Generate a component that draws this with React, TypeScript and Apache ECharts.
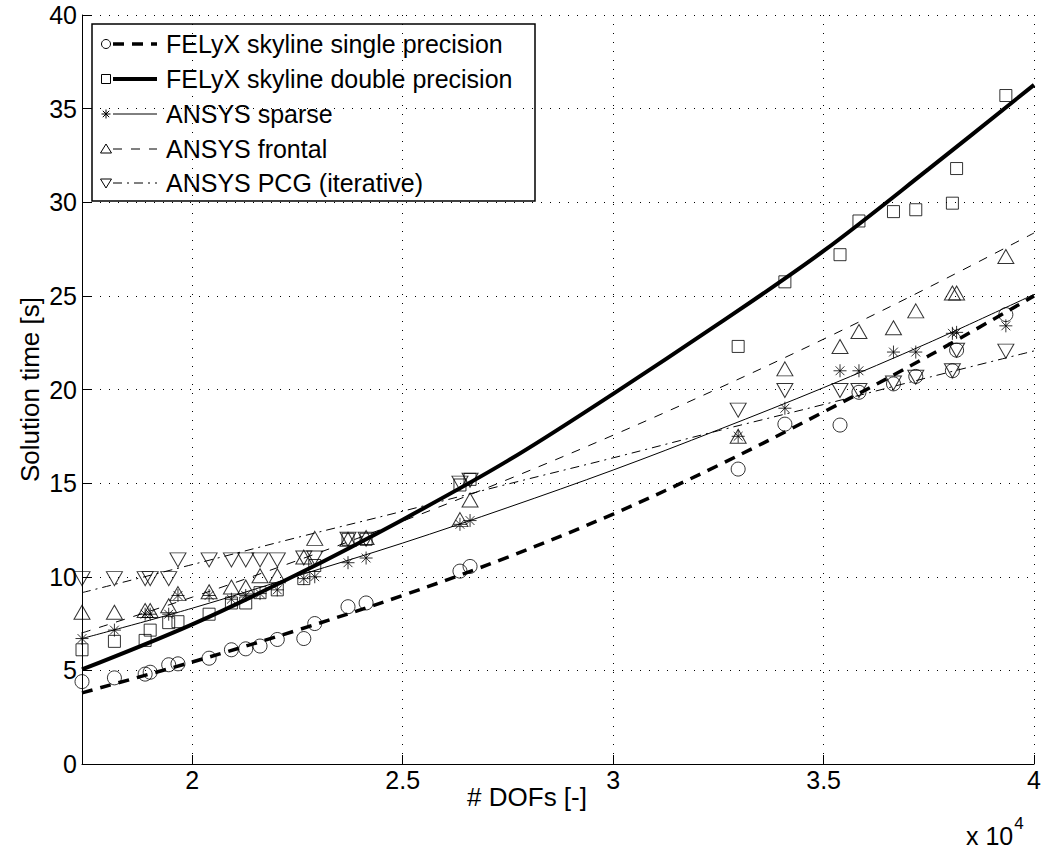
import React, { useEffect, useRef } from 'react';
import * as echarts from 'echarts';

// Measured problem sizes (degrees of freedom)
const dofs = [17380, 18150, 18880, 19000, 19440, 19660, 20400, 20930, 21270, 21610, 22020, 22650, 22910, 23700, 24130, 26360, 26600, 32970, 34080, 35390, 35840, 36660, 37190, 38060, 38160, 39330];

// Measured solution times [s]
const singleTimes = [4.4, 4.6, 4.8, 4.9, 5.3, 5.35, 5.65, 6.1, 6.15, 6.3, 6.65, 6.7, 7.5, 8.4, 8.6, 10.3, 10.55, 15.75, 18.15, 18.1, 19.85, 20.3, 20.7, 21.0, 22.1, 24.0];
const doubleTimes = [6.1, 6.55, 6.6, 7.15, 7.55, 7.6, 8.0, 8.6, 8.6, 9.15, 9.3, 9.9, 10.6, 12.0, 12.0, 14.9, 15.2, 22.3, 25.75, 27.2, 29.0, 29.5, 29.6, 29.95, 31.8, 35.7];
const sparseTimes = [6.7, 7.15, 8.0, 8.0, 8.0, 9.0, 9.0, 8.8, 9.0, 9.1, 9.3, 9.9, 10.0, 10.75, 11.0, 12.8, 13.0, 17.5, 19.0, 21.0, 21.0, 22.0, 22.0, 23.0, 23.05, 23.4];
const frontalTimes = [8.1, 8.1, 8.2, 8.2, 8.45, 9.1, 9.2, 9.45, 9.45, 10.05, 10.05, 11.05, 12.05, 12.0, 12.1, 13.05, 14.1, 17.5, 21.1, 22.3, 23.1, 23.3, 24.2, 25.15, 25.15, 27.1];
const pcgTimes = [9.9, 9.9, 9.9, 9.9, 9.9, 10.9, 10.9, 10.9, 10.9, 10.9, 10.9, 11.0, 11.0, 12.0, 12.0, 15.0, 15.15, 18.9, 19.95, 19.95, 19.95, 20.35, 20.65, 21.0, 22.1, 22.05];

// Fitted curves
const fitDofs = [17380, 20000, 22500, 25000, 27500, 30000, 32500, 35000, 37500, 40000];
const singleFit = [3.8, 5.45, 7.15, 9.0, 11.05, 13.35, 15.95, 18.8, 21.8, 25.0];
const doubleFit = [5.05, 7.46, 10.13, 13.05, 16.2, 19.77, 23.5, 27.4, 31.78, 36.27];
const sparseFit = [6.7, 8.32, 10.05, 11.8, 13.7, 15.7, 17.85, 20.1, 22.5, 25.08];
const frontalFit = [7.0, 8.91, 10.87, 12.97, 15.2, 17.56, 20.06, 22.69, 25.46, 28.36];
const pcgFit = [9.15, 10.65, 12.1, 13.5, 14.95, 16.35, 17.8, 19.2, 20.65, 22.06];

const xTicks = [20000, 25000, 30000, 35000, 40000];
const legendNames = [
  'FELyX skyline single precision',
  'FELyX skyline double precision',
  'ANSYS sparse',
  'ANSYS frontal',
  'ANSYS PCG (iterative)',
];

const FONT = "'Liberation Sans', Arial, Helvetica, sans-serif";
const ASTERISK = 'path://M5,0 L5,10 M0,5 L10,5 M1.6,1.6 L8.4,8.4 M1.6,8.4 L8.4,1.6';

const pairs = (xs: number[], ys: number[]) => xs.map((x, i) => [x, ys[i]]);

const hollow = { color: 'none', borderColor: '#000', borderWidth: 1 };

function scatter(name: string, ys: number[], symbol: string, size: any, rotate = 0) {
  return {
    name,
    type: 'scatter',
    data: pairs(dofs, ys),
    symbol,
    symbolSize: size,
    symbolRotate: rotate,
    itemStyle: hollow,
    z: 3,
  };
}

function fit(name: string, ys: number[], width: number, type: any) {
  return {
    name: name + ' fit',
    type: 'line',
    data: pairs(fitDofs, ys),
    smooth: 0.35,
    showSymbol: false,
    lineStyle: { color: '#000', width, type },
    z: 2,
  };
}

function buildLegend() {
  const left = 92, top = 24, w = 443, h = 177;
  const rowY = [44, 79, 114, 149, 183];
  const mx = 106, lx1 = 113, lx2 = 157, tx = 166;
  const els: any[] = [
    { type: 'rect', shape: { x: left, y: top, width: w, height: h }, style: { fill: '#fff', stroke: '#000', lineWidth: 1.5 } },
  ];
  const lineStyles = [
    { lineWidth: 3.5, lineDash: [11, 8] },
    { lineWidth: 4 },
    { lineWidth: 1 },
    { lineWidth: 1, lineDash: [9, 9] },
    { lineWidth: 1, lineDash: [9, 5, 2, 5] },
  ];
  rowY.forEach((y, i) => {
    els.push({ type: 'line', shape: { x1: lx1, y1: y, x2: lx2, y2: y }, style: { stroke: '#000', ...lineStyles[i] } });
    els.push({ type: 'text', x: tx, y, style: { text: legendNames[i], font: `25px ${FONT}`, fill: '#000', textVerticalAlign: 'middle', verticalAlign: 'middle' } });
  });
  const s = { fill: 'none', stroke: '#000', lineWidth: 1 };
  els.push({ type: 'circle', shape: { cx: mx, cy: rowY[0], r: 4.5 }, style: s });
  els.push({ type: 'rect', shape: { x: mx - 4.5, y: rowY[1] - 4.5, width: 9, height: 9 }, style: s });
  const a = 4.5, d = 3.2, y2 = rowY[2];
  [[0, -a, 0, a], [-a, 0, a, 0], [-d, -d, d, d], [-d, d, d, -d]].forEach(([x1, yy1, x2, yy2]) =>
    els.push({ type: 'line', shape: { x1: mx + x1, y1: y2 + yy1, x2: mx + x2, y2: y2 + yy2 }, style: { stroke: '#000', lineWidth: 1 } })
  );
  els.push({ type: 'polygon', shape: { points: [[mx, rowY[3] - 5], [mx + 5.5, rowY[3] + 4], [mx - 5.5, rowY[3] + 4]] }, style: s });
  els.push({ type: 'polygon', shape: { points: [[mx, rowY[4] + 5], [mx + 5.5, rowY[4] - 4], [mx - 5.5, rowY[4] - 4]] }, style: s });
  return { type: 'group', z: 100, children: els };
}

export default function App() {
  const ref = useRef<HTMLDivElement>(null);
  useEffect(() => {
    document.body.style.margin = '0';
    const chart = echarts.init(ref.current!, null, { renderer: 'svg' });
    const axisCommon = {
      axisLine: { show: true, lineStyle: { color: '#000', width: 1 } },
      splitLine: { show: true, lineStyle: { color: '#000', width: 1, type: [1, 8] } },
    };
    chart.setOption({
      animation: false,
      backgroundColor: '#fff',
      textStyle: { fontFamily: FONT },
      grid: { left: 82, right: 8, top: 15, bottom: 88 },
      xAxis: {
        type: 'value',
        min: 17380,
        max: 40000,
        ...axisCommon,
        axisTick: { show: true, inside: true, length: 9, customValues: xTicks, lineStyle: { color: '#000' } },
        axisLabel: { customValues: xTicks, formatter: (v: number) => String(v / 10000), fontSize: 25, color: '#000', margin: 3, fontFamily: FONT },
        name: '# DOFs [-]',
        nameLocation: 'middle',
        nameGap: 20,
        nameMoveOverlap: false,
        nameTextStyle: { fontSize: 26, color: '#000', fontFamily: FONT, padding: [0, 62, 0, 0], verticalAlign: 'top' },
      },
      yAxis: {
        type: 'value',
        min: 0,
        max: 40,
        interval: 5,
        ...axisCommon,
        axisTick: { show: true, inside: true, length: 9, lineStyle: { color: '#000' } },
        axisLabel: { fontSize: 25, color: '#000', margin: 5, fontFamily: FONT },
        name: 'Solution time [s]',
        nameLocation: 'middle',
        nameGap: 39,
        nameMoveOverlap: false,
        nameTextStyle: { fontSize: 26, color: '#000', fontFamily: FONT },
      },
      series: [
        fit(legendNames[0], singleFit, 3.5, [11, 8]),
        fit(legendNames[1], doubleFit, 4, 'solid'),
        fit(legendNames[2], sparseFit, 1, 'solid'),
        fit(legendNames[3], frontalFit, 1, [9, 9]),
        fit(legendNames[4], pcgFit, 1, [9, 5, 2, 5]),
        scatter(legendNames[0], singleTimes, 'circle', 14),
        scatter(legendNames[1], doubleTimes, 'rect', 12),
        scatter(legendNames[2], sparseTimes, ASTERISK, 13),
        scatter(legendNames[3], frontalTimes, 'triangle', [16, 14]),
        scatter(legendNames[4], pcgTimes, 'triangle', [16, 14], 180),
      ],
      graphic: [
        buildLegend(),
        {
          type: 'text',
          x: 966,
          y: 815,
          z: 100,
          style: {
            text: '{b|x 10}{s|4}',
            rich: {
              b: { fontSize: 25, fontFamily: FONT, fill: '#000', color: '#000', verticalAlign: 'bottom' },
              s: { fontSize: 17, fontFamily: FONT, fill: '#000', color: '#000', verticalAlign: 'top', padding: [0, 0, 16, 1] },
            },
          },
        },
      ],
    });
    return () => chart.dispose();
  }, []);
  return <div ref={ref} style={{ width: 1044, height: 852 }} />;
}
